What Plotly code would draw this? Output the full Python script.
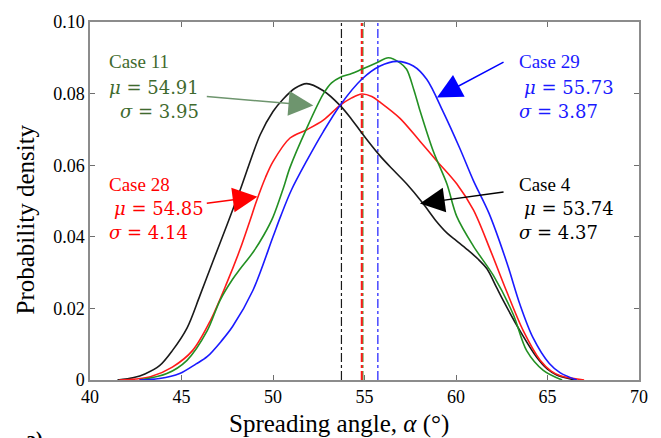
import plotly.graph_objects as go

# ---------------- data ----------------
case4_x = [41.5, 42.4, 43.0, 43.8, 44.5, 45.3, 46.0, 46.7, 47.5, 48.2, 49.3, 50.0, 50.56, 51.2, 51.84, 52.75,
           53.66, 54.3, 54.85, 55.85, 56.6, 57.3, 58.2, 58.9, 59.5, 60.0, 60.6, 61.2, 61.7, 62.2, 62.6, 63.5,
           64.4, 65.0, 65.5, 66.5]
case4_y = [0.0, 0.0007, 0.0017, 0.0040, 0.0082, 0.0145, 0.0235, 0.0329, 0.0435, 0.053, 0.0685, 0.075, 0.0785,
           0.0815, 0.0828, 0.0808, 0.0767, 0.0728, 0.069, 0.0626, 0.0585, 0.0548, 0.0493, 0.0445, 0.0411, 0.039,
           0.0365, 0.0338, 0.031, 0.026, 0.022, 0.0137, 0.0064, 0.003, 0.0014, 0.0]

case28_x = [41.6, 42.5, 43.3, 44.5, 45.6, 46.56, 47.5, 48.2, 48.74, 49.1, 49.6, 50.0, 50.93, 51.84, 52.75,
            53.66, 54.3, 54.85, 55.4, 55.85, 56.94, 58.03, 58.95, 60.04, 60.95, 61.86, 62.77, 63.68, 64.6,
            65.2, 65.7, 67.0]
case28_y = [0.0, 0.0003, 0.0009, 0.0036, 0.0082, 0.0164, 0.0274, 0.0365, 0.0445, 0.0500, 0.0567, 0.0610,
            0.0676, 0.0699, 0.0726, 0.0767, 0.0788, 0.0799, 0.0792, 0.0776, 0.0731, 0.0667, 0.0612, 0.0548,
            0.0475, 0.0365, 0.0247, 0.0137, 0.0055, 0.0025, 0.0012, 0.0]

case11_x = [42.7, 44.2, 45.3, 46.4, 47.1, 47.8, 48.2, 48.9, 49.5, 50.0, 50.56, 50.93, 51.84, 52.75, 53.2,
            53.66, 54.3, 54.85, 55.67, 56.3, 56.94, 57.3, 57.7, 58.0, 58.76, 59.5, 60.04, 60.95, 62.04, 63.13,
            63.86, 64.77, 65.8]
case11_y = [0.0, 0.0018, 0.0055, 0.0137, 0.0222, 0.0282, 0.031, 0.0356, 0.0405, 0.0455, 0.0535, 0.0594,
            0.0703, 0.0799, 0.083, 0.0845, 0.0856, 0.0868, 0.0886, 0.090, 0.0886, 0.0868, 0.081, 0.0758,
            0.0639, 0.0548, 0.0457, 0.0374, 0.0292, 0.0183, 0.0082, 0.0027, 0.0]

case29_x = [42.7, 43.8, 44.9, 45.8, 46.4, 47.2, 47.8, 48.9, 50.0, 50.4, 51.0, 51.84, 52.75, 53.66, 54.85,
            55.85, 56.76, 57.67, 58.4, 59.3, 60.2, 60.95, 61.8, 62.77, 63.5, 64.2, 65.1, 65.7, 66.6]
case29_y = [0.0, 0.0004, 0.0018, 0.0045, 0.0065, 0.011, 0.015, 0.025, 0.040, 0.0455, 0.053, 0.0612,
            0.0694, 0.0767, 0.084, 0.0877, 0.089, 0.0877, 0.084, 0.0749, 0.0648, 0.0557, 0.0466, 0.0329,
            0.021, 0.0119, 0.0046, 0.002, 0.0]

case_names = ["Case 4", "Case 28", "Case 11", "Case 29"]
case_means = [53.74, 54.85, 54.91, 55.73]
case_sds = [4.37, 4.14, 3.95, 3.87]

x_ticks = [40, 45, 50, 55, 60, 65, 70]
y_ticks = [0, 0.02, 0.04, 0.06, 0.08, 0.10]
y_tick_labels = ["0", "0.02", "0.04", "0.06", "0.08", "0.10"]

# ---------------- styles ----------------
curve_colors = {"Case 4": "#1a1a1a", "Case 28": "#ff1a1a", "Case 11": "#239023", "Case 29": "#1a1aff"}
text_colors = {"Case 4": "#000000", "Case 28": "#ff0000", "Case 11": "#3f6a2e", "Case 29": "#1a1aff"}
FONT = "Liberation Serif"
MATH = "DejaVu Serif"

fig = go.Figure()

series = {
    "Case 4": (case4_x, case4_y),
    "Case 28": (case28_x, case28_y),
    "Case 11": (case11_x, case11_y),
    "Case 29": (case29_x, case29_y),
}

# mean lines
mean_widths = {"Case 4": 1.2, "Case 28": 2.0, "Case 11": 1.2, "Case 29": 1.2}
for name in ["Case 4", "Case 11", "Case 29", "Case 28"]:
    m = case_means[case_names.index(name)]
    fig.add_trace(go.Scatter(x=[m, m], y=[0, 0.1], mode="lines",
                             line=dict(color=curve_colors[name], width=mean_widths[name], dash="dashdot"),
                             showlegend=False, hoverinfo="skip"))

for name in ["Case 4", "Case 28", "Case 11", "Case 29"]:
    xs, ys = series[name]
    fig.add_trace(go.Scatter(x=xs, y=ys, mode="lines",
                             line=dict(color=curve_colors[name], width=1.6, shape="spline", smoothing=0.9),
                             showlegend=False, name=name))

# text blocks: name, (x of each line), (y of each line)
blocks = [
    ("Case 11", (40.93, 40.93, 41.54), (0.0890, 0.0817, 0.0751)),
    ("Case 28", (40.93, 41.2, 40.93), (0.0546, 0.0479, 0.0411)),
    ("Case 29", (63.35, 63.62, 63.35), (0.0890, 0.0817, 0.0751)),
    ("Case 4", (63.35, 63.62, 63.35), (0.0546, 0.0479, 0.0411)),
]
for name, xs, ys in blocks:
    i = case_names.index(name)
    lines = [(name, FONT, 19),
             (f"<i>μ</i> = {case_means[i]:.2f}", MATH, 18),
             (f"<i>σ</i> = {case_sds[i]:.2f}", MATH, 18)]
    for (txt, fam, size), lx, ly in zip(lines, xs, ys):
        fig.add_annotation(x=lx, y=ly, xref="x", yref="y", text=txt, showarrow=False,
                           xanchor="left", yanchor="middle", align="left",
                           font=dict(family=fam, size=size, color=text_colors[name]))

arrows = [
    # head x, head y, tail x, tail y, colour
    (52.2, 0.0767, 46.3, 0.0792, "#6e956e"),
    (49.15, 0.0512, 46.3, 0.0493, "#ff0000"),
    (58.96, 0.0789, 62.68, 0.089, "#0000ff"),
    (58.03, 0.0493, 62.68, 0.0526, "#000000"),
]
for hx, hy, tx, ty, col in arrows:
    fig.add_annotation(x=hx, y=hy, ax=tx, ay=ty, xref="x", yref="y", axref="x", ayref="y",
                       text="", showarrow=True, arrowhead=2, arrowsize=3.3, arrowwidth=1.5,
                       arrowcolor=col, standoff=0)

# axis titles as annotations (positioned as in the reference)
fig.add_annotation(x=0.4536, y=-0.123, xref="paper", yref="paper",
                   text="Spreading angle, <i>α</i> (°)", showarrow=False,
                   xanchor="center", yanchor="middle",
                   font=dict(family=FONT, size=25, color="black"))
fig.add_annotation(x=-0.118, y=0.449, xref="paper", yref="paper",
                   text="Probability density", showarrow=False, textangle=-90,
                   xanchor="center", yanchor="middle",
                   font=dict(family=FONT, size=25, color="black"))

fig.add_annotation(x=0.0, y=-0.165, xref="paper", yref="paper", xshift=-66,
                   text="<b>a)</b>", showarrow=False, xanchor="left", yanchor="middle",
                   font=dict(family=FONT, size=20, color="black"))

axis_common = dict(showline=True, linecolor="#8c8c8c", linewidth=1.5, mirror="ticks",
                   ticks="inside", ticklen=5, tickcolor="#6e6e6e", tickwidth=1,
                   showgrid=False, zeroline=False,
                   tickfont=dict(family=FONT, size=18, color="black"))

fig.update_layout(
    width=661, height=438,
    margin=dict(l=90, r=22, t=15, b=58),
    paper_bgcolor="white", plot_bgcolor="white",
    xaxis=dict(range=[40, 70], tickvals=x_ticks, ticktext=[str(v) for v in x_ticks], **axis_common),
    yaxis=dict(range=[0, 0.1], tickvals=y_ticks, ticktext=y_tick_labels, **axis_common),
    showlegend=False,
)

fig.write_html("out.html")
